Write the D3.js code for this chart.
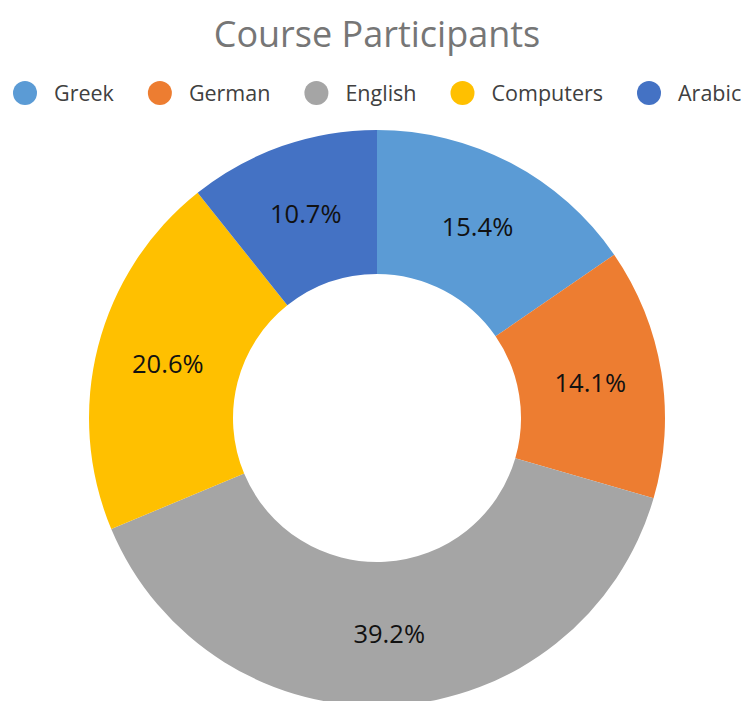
<!DOCTYPE html>
<html>
<head>
<meta charset="utf-8">
<script src="https://cdn.jsdelivr.net/npm/d3@7"></script>
<style>
  body { margin: 0; background: #fff; }
  text { font-family: "Open Sans", "Noto Sans", sans-serif; }
</style>
</head>
<body>
<div id="chart"></div>
<script>
let width = 743
let height = 701

let courses = ['Greek', 'German', 'English', 'Computers', 'Arabic']
let shares = [15.4, 14.1, 39.2, 20.6, 10.7]
let colors = ['#5b9bd5', '#ed7d31', '#a5a5a5', '#ffc000', '#4472c4']

let data = courses.map((c, i) => ({ name: c, value: shares[i] }))

let svg = d3.select('#chart')
  .append('svg')
  .attr('width', width)
  .attr('height', height)

// -- title
svg.append('text')
  .attr('x', 377)
  .attr('y', 47)
  .attr('text-anchor', 'middle')
  .style('font-size', '36px')
  .style('fill', '#767676')
  .text('Course Participants')

// -- legend, laid out from measured text widths
let color = d3.scaleOrdinal().domain(courses).range(colors)
let legend = svg.append('g').attr('transform', 'translate(0, 93)')
let items = legend.selectAll('.item')
  .data(courses)
  .enter()
  .append('g')
  .attr('class', 'item')

items.append('circle')
  .attr('r', 12)
  .attr('cx', 0)
  .attr('cy', 0)
  .style('fill', d => color(d))

items.append('text')
  .attr('x', 29)
  .attr('y', 7.5)
  .style('font-size', '21.5px')
  .style('fill', '#404040')
  .text(d => d)

let xPos = 25
items.each(function () {
  let w = this.querySelector('text').getComputedTextLength()
  d3.select(this).attr('transform', `translate(${xPos}, 0)`)
  xPos += 29 + w + 46
})

// -- donut
let cx = 377, cy = 418
let outer = 288, inner = 144

let pie = d3.pie().value(d => d.value).sort(null)
let arc = d3.arc().innerRadius(inner).outerRadius(outer)

let g = svg.append('g').attr('transform', `translate(${cx}, ${cy})`)

g.selectAll('.slice')
  .data(pie(data))
  .enter()
  .append('path')
  .attr('class', 'slice')
  .attr('d', arc)
  .style('fill', d => color(d.data.name))

g.selectAll('.label')
  .data(pie(data))
  .enter()
  .append('text')
  .attr('class', 'label')
  .attr('transform', d => `translate(${arc.centroid(d)})`)
  .attr('dy', '0.35em')
  .attr('text-anchor', 'middle')
  .style('font-size', '25.5px')
  .style('fill', '#111')
  .text(d => d.data.value.toFixed(1) + '%')
</script>
</body>
</html>
